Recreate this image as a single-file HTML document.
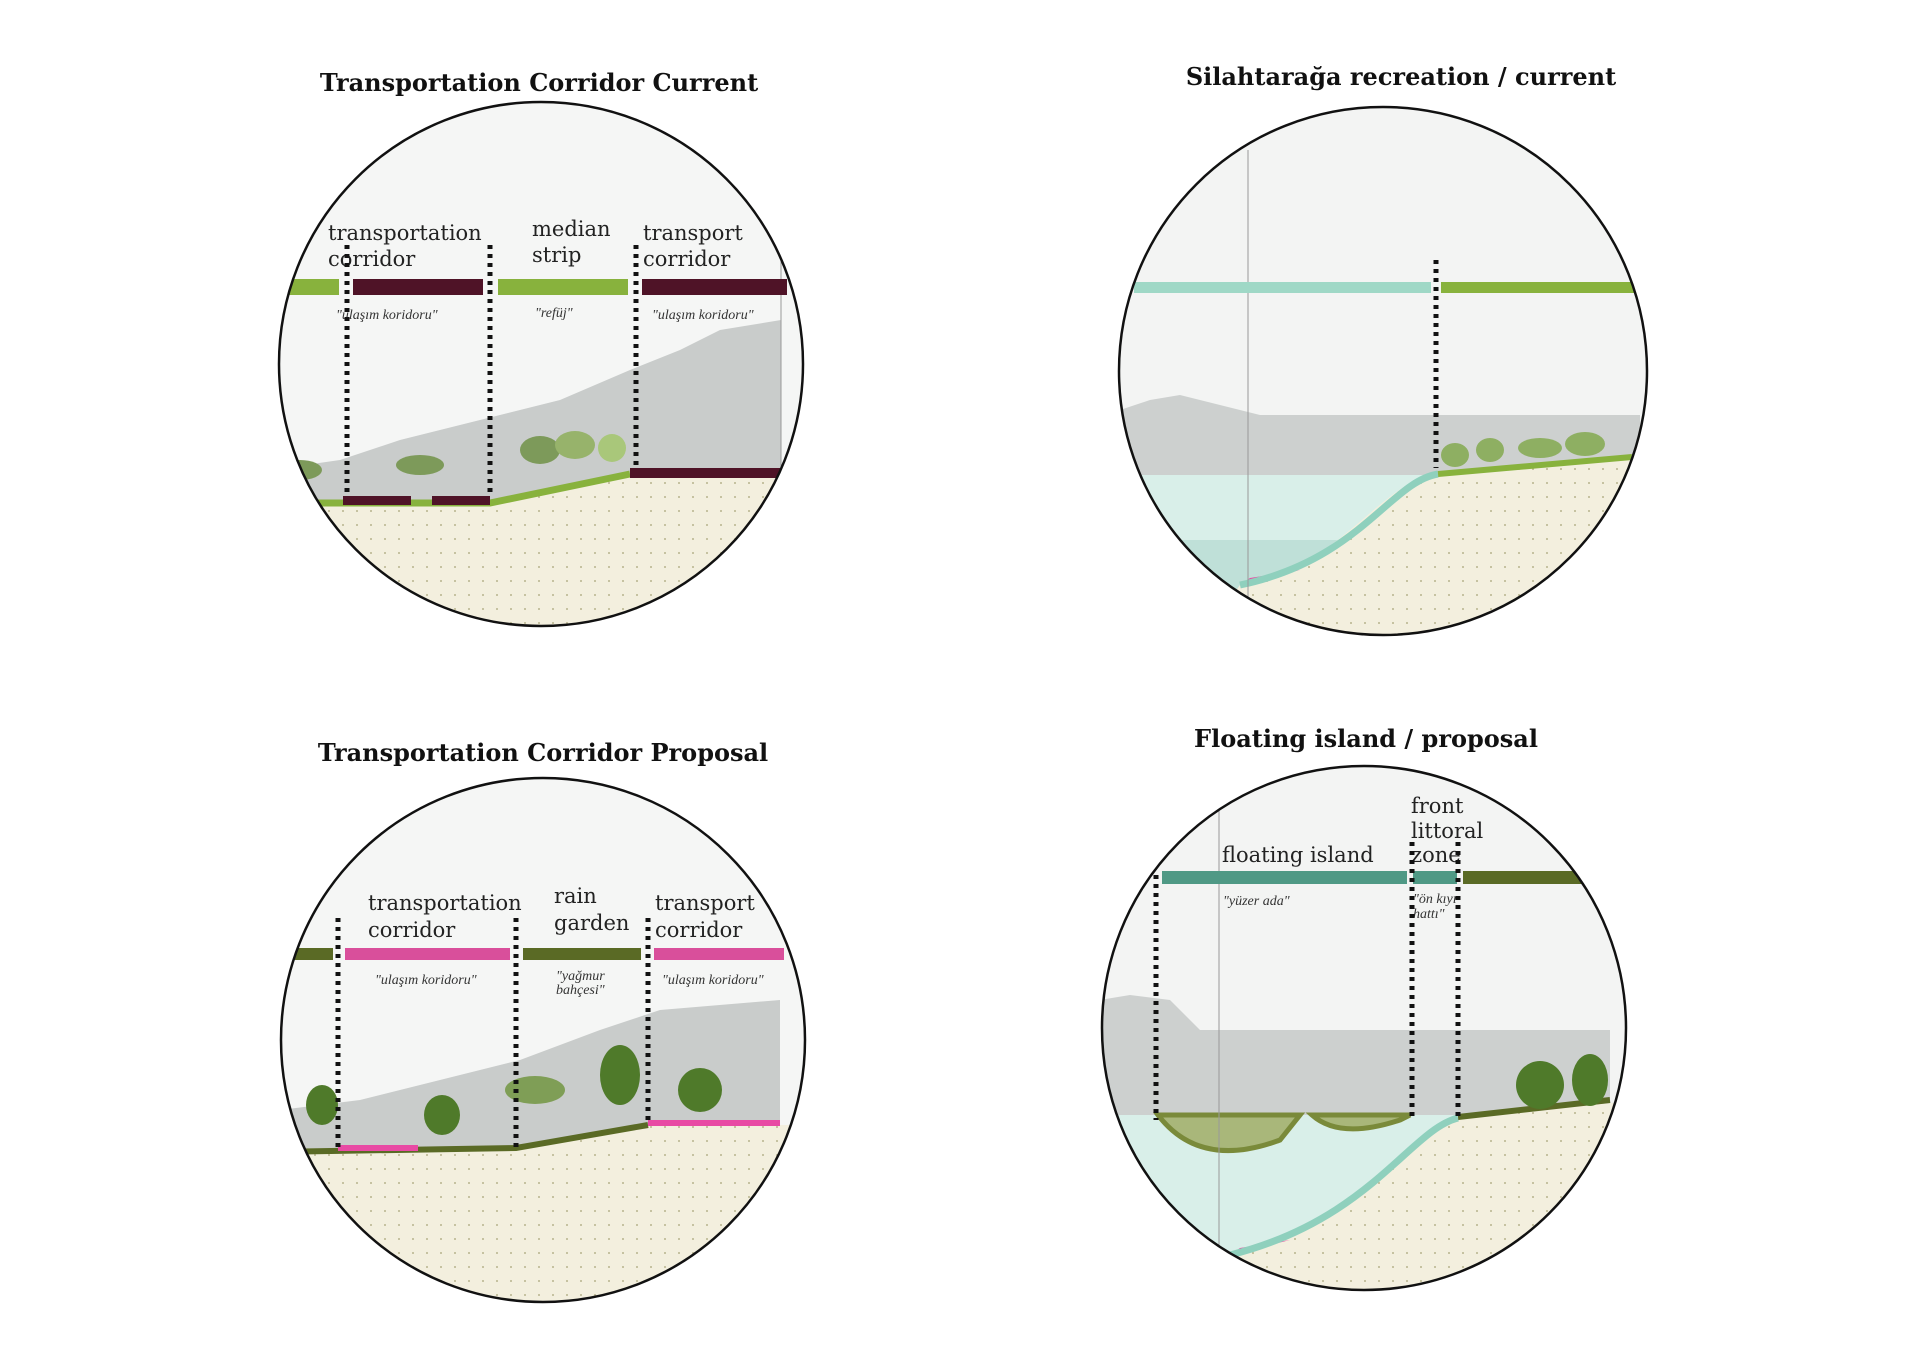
<!DOCTYPE html>
<html><head><meta charset="utf-8"><style>
html,body{margin:0;padding:0;background:#fff;}
svg{display:block}
.t{font-family:"DejaVu Serif","Liberation Serif",serif;font-weight:bold;font-size:24px;fill:#111;text-anchor:middle}
.l{font-family:"DejaVu Serif","Liberation Serif",serif;font-size:21px;fill:#222}
.i{font-family:"Liberation Serif",serif;font-style:italic;font-size:14px;fill:#333}
.d{stroke:#111;stroke-width:5;stroke-dasharray:4 5;fill:none}
</style></head><body>
<svg width="1920" height="1366" viewBox="0 0 1920 1366" xmlns="http://www.w3.org/2000/svg">
<defs>
<pattern id="dots" width="14" height="14" patternUnits="userSpaceOnUse"><rect width="14" height="14" fill="#f3efde"/><circle cx="7" cy="7" r="1" fill="#b8b48e"/></pattern>
<clipPath id="c1"><circle cx="541" cy="364" r="262"/></clipPath>
<clipPath id="c2"><circle cx="1383" cy="371" r="264"/></clipPath>
<clipPath id="c3"><circle cx="543" cy="1040" r="262"/></clipPath>
<clipPath id="c4"><circle cx="1364" cy="1028" r="262"/></clipPath>
</defs>

<text class="t" x="539" y="91">Transportation Corridor Current</text>
<text class="t" x="1401" y="85">Silahtarağa recreation / current</text>
<text class="t" x="543" y="761">Transportation Corridor Proposal</text>
<text class="t" x="1366" y="747">Floating island / proposal</text>

<!-- Circle 1 -->
<g clip-path="url(#c1)">
<rect x="270" y="100" width="540" height="530" fill="#f5f6f5"/>
<path d="M270 470 L340 460 L400 440 L480 420 L560 400 L630 370 L680 350 L720 330 L781 320 L781 500 L270 500Z" fill="#c9cccb"/>
<g fill="#7d9a5a"><ellipse cx="300" cy="470" rx="22" ry="10"/><ellipse cx="420" cy="465" rx="24" ry="10"/><ellipse cx="540" cy="450" rx="20" ry="14"/><ellipse cx="575" cy="445" rx="20" ry="14" fill="#97b36b"/><ellipse cx="612" cy="448" rx="14" ry="14" fill="#a9c77a"/></g>
<path d="M270 505 L490 505 L630 475 L810 470 L810 640 L270 640Z" fill="url(#dots)"/>
<path d="M270 503 L490 503 L630 474" stroke="#88b23d" stroke-width="7" fill="none"/>
<rect x="343" y="496" width="68" height="9" fill="#4f1327"/><rect x="432" y="496" width="58" height="9" fill="#4f1327"/>
<rect x="630" y="468" width="151" height="10" fill="#4f1327"/>
<line x1="781" y1="240" x2="781" y2="480" stroke="#999" stroke-width="1"/>
<rect x="270" y="279" width="69" height="16" fill="#88b23d"/>
<rect x="353" y="279" width="130" height="16" fill="#4f1327"/>
<rect x="498" y="279" width="130" height="16" fill="#88b23d"/>
<rect x="642" y="279" width="145" height="16" fill="#4f1327"/>
</g>
<circle cx="541" cy="364" r="262" fill="none" stroke="#111" stroke-width="2.5"/>
<text class="l" x="328" y="240">transportation</text><text class="l" x="328" y="266">corridor</text>
<text class="l" x="532" y="236">median</text><text class="l" x="532" y="262">strip</text>
<text class="l" x="643" y="240">transport</text><text class="l" x="643" y="266">corridor</text>
<text class="i" x="336" y="319">"ulaşım koridoru"</text>
<text class="i" x="535" y="317">"refüj"</text>
<text class="i" x="652" y="319">"ulaşım koridoru"</text>
<line class="d" x1="347" y1="245" x2="347" y2="492"/>
<line class="d" x1="490" y1="245" x2="490" y2="492"/>
<line class="d" x1="636" y1="245" x2="636" y2="470"/>

<!-- Circle 2 -->
<g clip-path="url(#c2)">
<rect x="1110" y="100" width="560" height="540" fill="#f3f4f3"/>
<path d="M1120 410 L1150 400 L1180 395 L1220 405 L1260 415 L1640 415 L1640 475 L1120 475Z" fill="#cdd0cf"/>
<rect x="1120" y="475" width="330" height="180" fill="#d9efe9"/>
<rect x="1120" y="540" width="330" height="60" fill="#bfe0d8"/>
<path d="M1438 474 C1380 480 1340 570 1240 585 L1200 640 L1640 640 L1640 457 Z" fill="url(#dots)"/>
<path d="M1250 578 L1300 570 L1240 585Z" fill="#e84aa4"/>
<path d="M1438 474 C1390 482 1360 560 1240 585" stroke="#8fd0bd" stroke-width="7" fill="none"/>
<path d="M1438 474 L1632 457" stroke="#88b23d" stroke-width="6"/>
<g fill="#8eaf62"><ellipse cx="1455" cy="455" rx="14" ry="12"/><ellipse cx="1490" cy="450" rx="14" ry="12"/><ellipse cx="1540" cy="448" rx="22" ry="10"/><ellipse cx="1585" cy="444" rx="20" ry="12"/></g>
<line x1="1248" y1="150" x2="1248" y2="640" stroke="#999" stroke-width="1"/>
<rect x="1134" y="282" width="297" height="11" fill="#9fd8c6"/>
<rect x="1441" y="282" width="200" height="11" fill="#88b23d"/>
</g>
<circle cx="1383" cy="371" r="264" fill="none" stroke="#111" stroke-width="2.5"/>
<line class="d" x1="1436" y1="260" x2="1436" y2="468"/>

<!-- Circle 3 -->
<g clip-path="url(#c3)">
<rect x="270" y="770" width="560" height="540" fill="#f5f6f5"/>
<path d="M280 1110 L360 1100 L440 1080 L520 1060 L600 1030 L660 1010 L780 1000 L780 1150 L280 1150Z" fill="#c9cccb"/>
<path d="M270 1152 L516 1148 L648 1125 L800 1125 L800 1310 L270 1310Z" fill="url(#dots)"/>
<path d="M270 1152 L516 1148 L648 1125" stroke="#5a6a25" stroke-width="6" fill="none"/>
<rect x="338" y="1145" width="80" height="6" fill="#e84aa4"/><rect x="648" y="1120" width="132" height="6" fill="#e84aa4"/>
<g fill="#4f7a2a"><ellipse cx="322" cy="1105" rx="16" ry="20"/><ellipse cx="442" cy="1115" rx="18" ry="20"/><ellipse cx="535" cy="1090" rx="30" ry="14" fill="#7f9e56"/><ellipse cx="620" cy="1075" rx="20" ry="30"/><ellipse cx="700" cy="1090" rx="22" ry="22"/></g>
<rect x="270" y="948" width="63" height="12" fill="#5a6a25"/>
<rect x="345" y="948" width="165" height="12" fill="#d94f9b"/>
<rect x="523" y="948" width="118" height="12" fill="#5a6a25"/>
<rect x="654" y="948" width="130" height="12" fill="#d94f9b"/>
</g>
<circle cx="543" cy="1040" r="262" fill="none" stroke="#111" stroke-width="2.5"/>
<text class="l" x="368" y="910">transportation</text><text class="l" x="368" y="937">corridor</text>
<text class="l" x="554" y="903">rain</text><text class="l" x="554" y="930">garden</text>
<text class="l" x="655" y="910">transport</text><text class="l" x="655" y="937">corridor</text>
<text class="i" x="375" y="984">"ulaşım koridoru"</text>
<text class="i" x="556" y="980">"yağmur</text><text class="i" x="556" y="994">bahçesi"</text>
<text class="i" x="662" y="984">"ulaşım koridoru"</text>
<line class="d" x1="338" y1="918" x2="338" y2="1148"/>
<line class="d" x1="516" y1="918" x2="516" y2="1148"/>
<line class="d" x1="648" y1="918" x2="648" y2="1125"/>

<!-- Circle 4 -->
<g clip-path="url(#c4)">
<rect x="1095" y="760" width="540" height="540" fill="#f3f4f3"/>
<path d="M1100 1000 L1130 995 L1170 1000 L1200 1030 L1610 1030 L1610 1115 L1100 1115Z" fill="#cdd0cf"/>
<rect x="1100" y="1115" width="360" height="190" fill="#d9efe9"/>
<path d="M1458 1118 C1400 1130 1360 1230 1230 1255 L1200 1300 L1640 1300 L1640 1100 Z" fill="url(#dots)"/>
<path d="M1240 1248 L1290 1240 L1230 1255Z" fill="#e84aa4"/>
<path d="M1458 1118 C1410 1130 1370 1220 1230 1255" stroke="#8fd0bd" stroke-width="7" fill="none"/>
<path d="M1458 1117 L1610 1100" stroke="#5a6a25" stroke-width="6"/>
<path d="M1158 1115 Q1200 1170 1280 1140 L1300 1115Z" fill="#a9b77a" stroke="#7a8a3a" stroke-width="5"/>
<path d="M1312 1115 Q1340 1140 1400 1120 L1410 1115Z" fill="#a9b77a" stroke="#7a8a3a" stroke-width="5"/>
<g fill="#4f7a2a"><ellipse cx="1540" cy="1085" rx="24" ry="24"/><ellipse cx="1590" cy="1080" rx="18" ry="26"/></g>
<line x1="1219" y1="790" x2="1219" y2="1300" stroke="#999" stroke-width="1"/>
<rect x="1162" y="871" width="245" height="13" fill="#4f9985"/>
<rect x="1413" y="871" width="44" height="13" fill="#4f9985"/>
<rect x="1463" y="871" width="150" height="13" fill="#5a6a25"/>
</g>
<circle cx="1364" cy="1028" r="262" fill="none" stroke="#111" stroke-width="2.5"/>
<text class="l" x="1222" y="862">floating island</text>
<text class="l" x="1411" y="813">front</text><text class="l" x="1411" y="838">littoral</text><text class="l" x="1411" y="862">zone</text>
<text class="i" x="1223" y="905">"yüzer ada"</text>
<text class="i" x="1413" y="903">"ön kıyı</text><text class="i" x="1413" y="918">hattı"</text>
<line class="d" x1="1156" y1="875" x2="1156" y2="1120"/>
<line class="d" x1="1412" y1="842" x2="1412" y2="1120"/>
<line class="d" x1="1458" y1="842" x2="1458" y2="1118"/>
</svg>
</body></html>
